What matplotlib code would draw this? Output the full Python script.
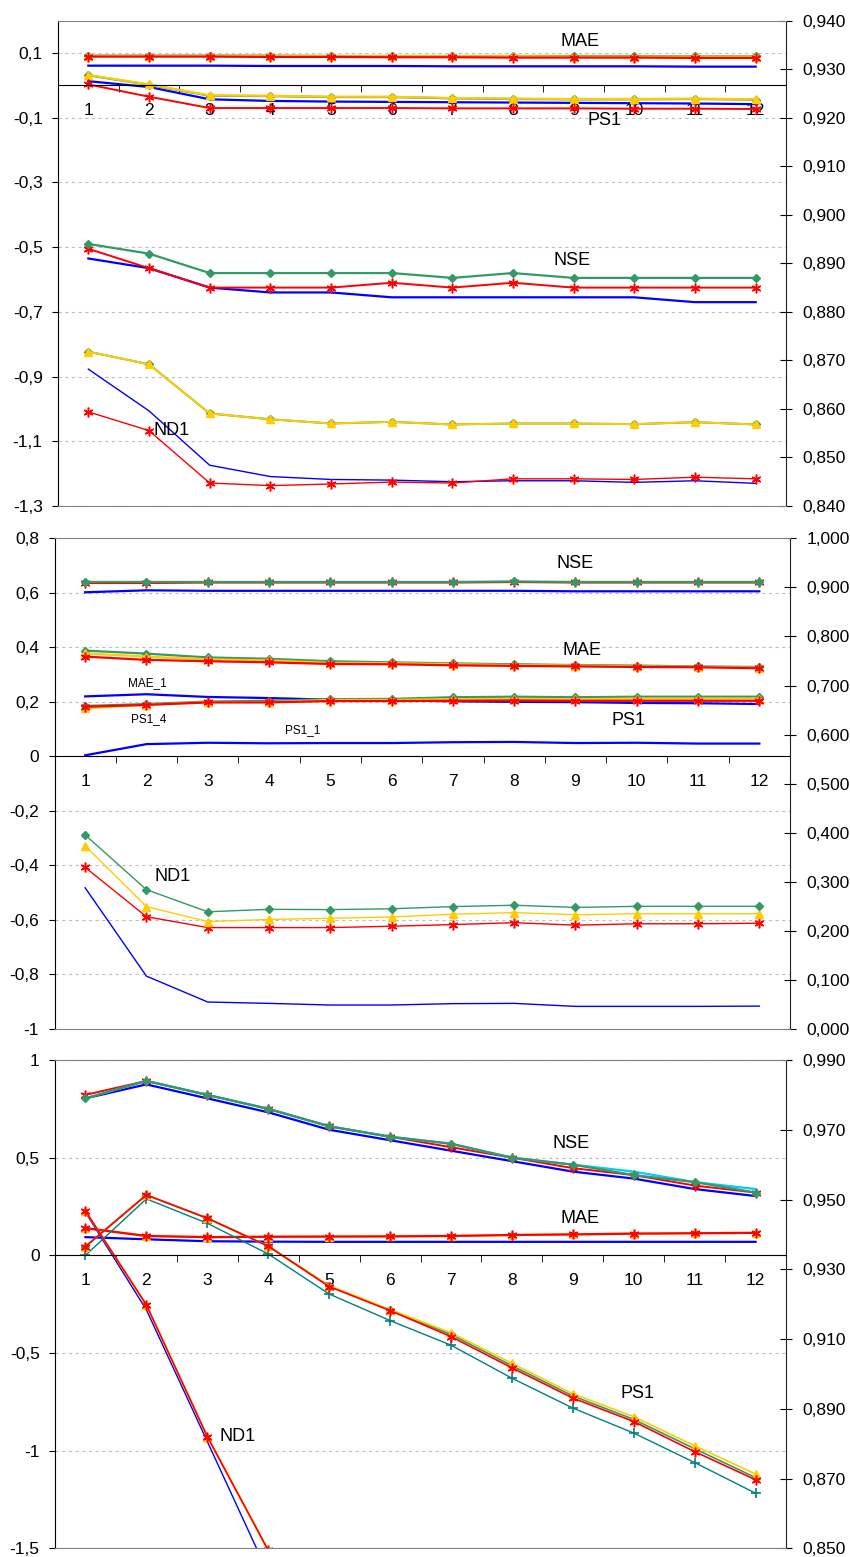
import numpy as np
import matplotlib
matplotlib.use('Agg')
import matplotlib.pyplot as plt
from matplotlib.ticker import FuncFormatter, FixedLocator

plt.rcParams['font.family'] = ['Liberation Sans', 'DejaVu Sans']

months = np.arange(1, 13)
nan = np.nan

# ---- panel 1 (NSE on right axis, the rest on the left axis)
p1_mae_blue = [0.061, 0.061, 0.061, 0.060, 0.060, 0.060, 0.059, 0.059, 0.059, 0.059, 0.058, 0.058]
p1_mae_green = [0.092, 0.092, 0.092, 0.092, 0.091, 0.091, 0.091, 0.091, 0.091, 0.091, 0.090, 0.090]
p1_mae_yellow = [0.091, 0.091, 0.091, 0.091, 0.090, 0.090, 0.090, 0.090, 0.089, 0.089, 0.089, 0.089]
p1_mae_red = [0.089, 0.089, 0.089, 0.088, 0.088, 0.087, 0.087, 0.086, 0.086, 0.086, 0.085, 0.085]
p1_ps1_blue = [0.013, -0.005, -0.043, -0.048, -0.050, -0.051, -0.052, -0.053, -0.054, -0.055, -0.056, -0.058]
p1_ps1_green = [0.031, 0.002, -0.032, -0.033, -0.036, -0.036, -0.040, -0.042, -0.043, -0.043, -0.042, -0.044]
p1_ps1_yellow = [0.032, 0.003, -0.031, -0.032, -0.035, -0.035, -0.039, -0.041, -0.042, -0.042, -0.041, -0.043]
p1_ps1_red = [0.003, -0.035, -0.070, -0.070, -0.070, -0.070, -0.071, -0.071, -0.071, -0.072, -0.072, -0.073]
p1_nse_blue = [0.891, 0.889, 0.885, 0.884, 0.884, 0.883, 0.883, 0.883, 0.883, 0.883, 0.882, 0.882]
p1_nse_red = [0.893, 0.889, 0.885, 0.885, 0.885, 0.886, 0.885, 0.886, 0.885, 0.885, 0.885, 0.885]
p1_nse_green = [0.894, 0.892, 0.888, 0.888, 0.888, 0.888, 0.887, 0.888, 0.887, 0.887, 0.887, 0.887]
p1_nd1_blue = [-0.877, -1.006, -1.174, -1.209, -1.218, -1.220, -1.225, -1.222, -1.222, -1.227, -1.222, -1.230]
p1_nd1_red = [-1.009, -1.067, -1.229, -1.237, -1.232, -1.226, -1.229, -1.216, -1.216, -1.218, -1.211, -1.216]
p1_nd1_green = [-0.823, -0.862, -1.014, -1.032, -1.045, -1.040, -1.048, -1.045, -1.045, -1.047, -1.041, -1.048]
p1_nd1_yellow = [-0.823, -0.862, -1.014, -1.032, -1.045, -1.040, -1.048, -1.045, -1.045, -1.047, -1.041, -1.048]

# ---- panel 2
p2_nse_blue = [0.890, 0.894, 0.893, 0.893, 0.893, 0.893, 0.893, 0.893, 0.892, 0.892, 0.892, 0.892]
p2_nse_red = [0.909, 0.909, 0.910, 0.910, 0.910, 0.910, 0.910, 0.911, 0.910, 0.910, 0.910, 0.910]
p2_nse_green = [0.911, 0.911, 0.911, 0.911, 0.911, 0.911, 0.911, 0.912, 0.911, 0.911, 0.911, 0.911]
p2_mae_blue = [0.220, 0.228, 0.218, 0.214, 0.208, 0.206, 0.202, 0.200, 0.199, 0.196, 0.195, 0.192]
p2_mae_red = [0.366, 0.354, 0.349, 0.345, 0.339, 0.338, 0.334, 0.332, 0.330, 0.328, 0.327, 0.323]
p2_mae_yellow = [0.378, 0.366, 0.356, 0.352, 0.343, 0.342, 0.338, 0.335, 0.333, 0.330, 0.328, 0.325]
p2_mae_green = [0.388, 0.377, 0.363, 0.358, 0.349, 0.345, 0.341, 0.338, 0.335, 0.333, 0.330, 0.328]
p2_ps1_blue = [0.004, 0.045, 0.050, 0.048, 0.049, 0.049, 0.052, 0.053, 0.049, 0.050, 0.047, 0.047]
p2_ps1_red = [0.182, 0.189, 0.198, 0.198, 0.203, 0.203, 0.204, 0.205, 0.204, 0.204, 0.204, 0.204]
p2_ps1_yellow = [0.176, 0.189, 0.199, 0.199, 0.207, 0.207, 0.210, 0.211, 0.210, 0.212, 0.212, 0.212]
p2_ps1_green = [0.185, 0.192, 0.201, 0.204, 0.210, 0.211, 0.217, 0.219, 0.217, 0.219, 0.219, 0.219]
p2_nd1_blue = [-0.482, -0.806, -0.901, -0.906, -0.912, -0.912, -0.907, -0.906, -0.917, -0.917, -0.917, -0.916]
p2_nd1_red = [-0.407, -0.588, -0.628, -0.628, -0.628, -0.623, -0.617, -0.610, -0.619, -0.614, -0.614, -0.612]
p2_nd1_yellow = [-0.328, -0.551, -0.606, -0.598, -0.594, -0.589, -0.579, -0.573, -0.581, -0.577, -0.577, -0.577]
p2_nd1_green = [-0.288, -0.489, -0.570, -0.561, -0.562, -0.559, -0.551, -0.546, -0.554, -0.550, -0.550, -0.550]

# ---- panel 3
p3_nse_blue = [0.979, 0.983, 0.979, 0.975, 0.970, 0.967, 0.964, 0.961, 0.958, 0.956, 0.953, 0.951]
p3_nse_red = [0.980, 0.984, 0.980, 0.976, 0.971, 0.968, 0.965, 0.962, 0.959, 0.957, 0.954, 0.952]
p3_nse_cyan = [0.979, 0.984, 0.980, 0.976, 0.971, 0.968, 0.966, 0.962, 0.960, 0.958, 0.955, 0.953]
p3_nse_green = [0.979, 0.984, 0.980, 0.976, 0.971, 0.968, 0.966, 0.962, 0.960, 0.957, 0.955, 0.952]
p3_mae_blue = [0.093, 0.082, 0.072, 0.070, 0.069, 0.069, 0.069, 0.069, 0.069, 0.069, 0.069, 0.069]
p3_mae_yellow = [0.139, 0.099, 0.093, 0.095, 0.096, 0.097, 0.099, 0.104, 0.107, 0.111, 0.113, 0.115]
p3_mae_red = [0.139, 0.099, 0.093, 0.095, 0.096, 0.097, 0.099, 0.104, 0.107, 0.111, 0.113, 0.115]
p3_ps1_teal = [0.000, 0.289, 0.164, 0.007, -0.198, -0.334, -0.460, -0.629, -0.782, -0.910, -1.061, -1.218]
p3_ps1_green = [0.045, 0.309, 0.190, 0.047, -0.158, -0.280, -0.405, -0.565, -0.720, -0.840, -0.990, -1.138]
p3_ps1_yellow = [0.045, 0.309, 0.190, 0.047, -0.155, -0.278, -0.396, -0.553, -0.709, -0.826, -0.975, -1.120]
p3_ps1_red = [0.045, 0.309, 0.190, 0.047, -0.160, -0.283, -0.416, -0.576, -0.731, -0.851, -1.005, -1.149]
p3_nd1_blue = [0.220, -0.279, -0.953, -1.630, nan, nan, nan, nan, nan, nan, nan, nan]
p3_nd1_yellow = [0.227, -0.254, -0.928, -1.510, nan, nan, nan, nan, nan, nan, nan, nan]
p3_nd1_red = [0.227, -0.254, -0.928, -1.510, nan, nan, nan, nan, nan, nan, nan, nan]

STYLE = {
    'blue': dict(color='#0000FF'),
    'red': dict(color='#FF0000', marker=(6, 2, 0), ms=7, mew=1.1),
    'yellow': dict(color='#FFCC00', marker='^', ms=6),
    'green': dict(color='#339966', marker='D', ms=4.5),
    'teal': dict(color='#008080', marker='+', ms=7, mew=1.2),
    'cyan': dict(color='#00CCFF'),
}


def left_fmt(v, pos):
    return f"{round(v, 3) + 0.0:g}".replace('.', ',')


def right_fmt(v, pos):
    return f"{v:.3f}".replace('.', ',')


def draw_panel(fig, rect, ylim, yticks, ylim2, yticks2, left, right, notes):
    ax = fig.add_axes(rect)
    ax2 = ax.twinx()
    for key, vals, lw in left:
        ax.plot(months, vals, lw=lw, **STYLE[key])
    for key, vals, lw in right:
        ax2.plot(months, vals, lw=lw, **STYLE[key])

    ax.set_xlim(0.5, 12.5)
    ax.set_ylim(*ylim)
    ax2.set_ylim(*ylim2)
    ax.yaxis.set_major_locator(FixedLocator(yticks))
    ax2.yaxis.set_major_locator(FixedLocator(yticks2))
    ax.yaxis.set_major_formatter(FuncFormatter(left_fmt))
    ax2.yaxis.set_major_formatter(FuncFormatter(right_fmt))
    ax.set_xticks(months)
    ax.set_xticks(np.arange(0.5, 13, 1), minor=True)

    ax.set_axisbelow(True)
    ax.yaxis.grid(True, linestyle=(0, (3, 3)), color='#c0c0c0', lw=0.8)

    ax.spines['bottom'].set_position(('data', 0))
    ax.spines['top'].set_visible(False)
    ax.spines['right'].set_visible(False)
    ax2.spines['left'].set_visible(False)
    ax2.spines['top'].set_color('#808080')
    ax2.spines['bottom'].set_color('#808080')
    ax2.spines['right'].set_color('#202020')

    ax.tick_params(axis='y', direction='out', length=4, labelsize=12.5, pad=7)
    ax.tick_params(axis='x', which='major', length=0, labelsize=12.5, pad=13)
    ax.tick_params(axis='x', which='minor', direction='out', length=5)
    ax2.tick_params(axis='y', direction='inout', length=8, labelsize=12.5, pad=8)

    for text, x, y, size in notes:
        ax.text(x, y, text, fontsize=size, ha='center', va='center', zorder=5)
    return ax, ax2


fig = plt.figure(figsize=(8.5, 15.57), dpi=100)

draw_panel(fig, [0.06824, 0.67502, 0.85647, 0.31169],
           (-1.3, 0.2), np.arange(-1.3, 0.15, 0.2),
           (0.84, 0.94), np.arange(0.84, 0.9405, 0.01),
           [('blue', p1_mae_blue, 1.6), ('green', p1_mae_green, 1.6),
            ('yellow', p1_mae_yellow, 1.6), ('red', p1_mae_red, 1.6),
            ('blue', p1_ps1_blue, 1.6), ('green', p1_ps1_green, 1.6),
            ('yellow', p1_ps1_yellow, 1.6), ('red', p1_ps1_red, 1.4),
            ('blue', p1_nd1_blue, 1.0), ('red', p1_nd1_red, 1.0),
            ('green', p1_nd1_green, 1.4), ('yellow', p1_nd1_yellow, 1.4)],
           [('blue', p1_nse_blue, 1.6), ('red', p1_nse_red, 1.4),
            ('green', p1_nse_green, 1.6)],
           [('MAE', 9.1, 0.135, 13), ('PS1', 9.5, -0.107, 13),
            ('NSE', 8.98, -0.542, 13), ('ND1', 2.38, -1.068, 13)])

draw_panel(fig, [0.06412, 0.33911, 0.86529, 0.31516],
           (-1.0, 0.8), np.arange(-1.0, 0.85, 0.2),
           (0.0, 1.0), np.arange(0.0, 1.05, 0.1),
           [('green', p2_mae_green, 1.6), ('yellow', p2_mae_yellow, 1.6),
            ('red', p2_mae_red, 1.6), ('blue', p2_mae_blue, 1.6),
            ('green', p2_ps1_green, 1.6), ('yellow', p2_ps1_yellow, 1.6),
            ('red', p2_ps1_red, 1.6), ('blue', p2_ps1_blue, 1.6),
            ('blue', p2_nd1_blue, 1.0), ('red', p2_nd1_red, 1.0),
            ('yellow', p2_nd1_yellow, 1.0), ('green', p2_nd1_green, 1.0)],
           [('blue', p2_nse_blue, 1.6), ('red', p2_nse_red, 1.6),
            ('green', p2_nse_green, 1.6)],
           [('NSE', 9.0, 0.708, 13), ('MAE', 9.1, 0.390, 13),
            ('MAE_1', 2.01, 0.270, 8.5), ('PS1_4', 2.04, 0.137, 8.5),
            ('PS1_1', 4.55, 0.098, 8.5), ('PS1', 9.86, 0.133, 13),
            ('ND1', 2.42, -0.441, 13)])

draw_panel(fig, [0.06471, 0.005588, 0.86, 0.31362],
           (-1.5, 1.0), np.arange(-1.5, 1.05, 0.5),
           (0.85, 0.99), np.arange(0.85, 0.9905, 0.02),
           [('blue', p3_mae_blue, 1.6), ('yellow', p3_mae_yellow, 1.6),
            ('red', p3_mae_red, 1.6),
            ('teal', p3_ps1_teal, 1.0), ('green', p3_ps1_green, 1.2),
            ('yellow', p3_ps1_yellow, 1.2), ('red', p3_ps1_red, 1.2),
            ('blue', p3_nd1_blue, 1.0), ('yellow', p3_nd1_yellow, 1.4),
            ('red', p3_nd1_red, 1.2)],
           [('blue', p3_nse_blue, 1.6), ('red', p3_nse_red, 1.4),
            ('cyan', p3_nse_cyan, 1.6), ('green', p3_nse_green, 1.6)],
           [('NSE', 8.97, 0.575, 13), ('MAE', 9.12, 0.186, 13),
            ('PS1', 10.07, -0.709, 13), ('ND1', 3.5, -0.928, 13)])

fig.savefig('out.png', dpi=100)
